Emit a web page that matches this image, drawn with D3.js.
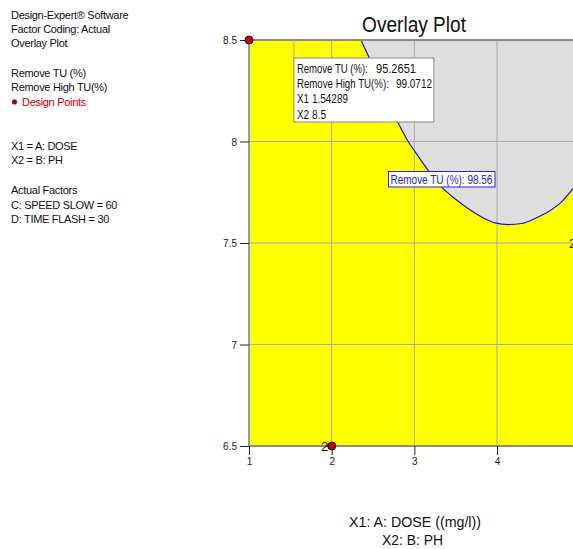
<!DOCTYPE html>
<html><head><meta charset="utf-8">
<script src="https://cdn.jsdelivr.net/npm/d3@7/dist/d3.min.js"></script>
<style>body{margin:0;background:#fff;overflow:hidden}svg{display:block}text{font-family:"Liberation Sans",Arial,sans-serif}</style>
</head><body><svg id="c" width="573" height="549"></svg>
<script>
const xTicks = [1, 2, 3, 4, 5];
const yTicks = [6.5, 7, 7.5, 8, 8.5];
// Remove TU (%) = 98.56 contour boundary (X1, X2)
const contourX = [2.355, 2.58, 2.806, 2.927, 3.008, 3.169, 3.331, 3.492, 3.653, 3.815, 3.976, 4.137, 4.299, 4.460, 4.620, 4.783, 4.919, 5.0];
const contourY = [8.5, 8.30, 8.090, 7.999, 7.950, 7.857, 7.775, 7.718, 7.669, 7.628, 7.599, 7.591, 7.596, 7.621, 7.654, 7.704, 7.768, 7.81];
const designX = [1, 2, 5];
const designY = [8.5, 6.5, 7.5];
const designLabel = ["", "2", "2"];
const legendLines = ["Design-Expert® Software", "Factor Coding: Actual", "Overlay Plot"];
const responseLines = ["Remove TU (%)", "Remove High TU(%)"];
const factorLines = ["X1 = A: DOSE", "X2 = B: PH"];
const actualLines = ["Actual Factors", "C: SPEED SLOW = 60", "D: TIME FLASH = 30"];
const tipLabels = ["Remove TU (%):", "Remove High TU(%):", "X1", "X2"];
const tipValues = ["95.2651", "99.0712", "1.54289", "8.5"];
const tipPoint = [1.54289, 8.5];
const contourLabel = "Remove TU (%): 98.56";

const svg = d3.select("#c");
const W = 573;
const x = d3.scaleLinear().domain([1, 5]).range([249, 579.7]);
const y = d3.scaleLinear().domain([6.5, 8.5]).range([446, 40]);

// text squeezed horizontally to a given width (via transform, anchor start or middle)
function fitText(parent, str, px, py, width, size, fill, anchor) {
  const t = parent.append("text").attr("font-size", size).attr("fill", fill || "#111").text(str);
  const nat = t.node().getComputedTextLength();
  const s = Math.min(1.15, width / nat);
  if (anchor === "middle") t.attr("text-anchor", "middle");
  t.attr("transform", `translate(${px},${py}) scale(${s},1)`);
  return t;
}

// legend text
const lg = svg.append("g").attr("font-size", 11).attr("fill", "#111").attr("letter-spacing", -0.3);
legendLines.forEach((t, i) => lg.append("text").attr("x", 11).attr("y", 19 + i * 14.2).text(t));
responseLines.forEach((t, i) => lg.append("text").attr("x", 11).attr("y", 77 + i * 14.2).text(t));
lg.append("circle").attr("cx", 14.5).attr("cy", 102).attr("r", 2.3).attr("fill", "#b00000").attr("stroke", "#400").attr("stroke-width", 0.6);
lg.append("text").attr("x", 22).attr("y", 106).attr("fill", "#cc0000").text("Design Points");
factorLines.forEach((t, i) => lg.append("text").attr("x", 11).attr("y", 150 + i * 14.2).text(t));
actualLines.forEach((t, i) => lg.append("text").attr("x", 11).attr("y", 194 + i * 14.6).text(t));

// plot fill
svg.append("rect").attr("x", x(1)).attr("y", y(8.5)).attr("width", x(5) - x(1)).attr("height", y(6.5) - y(8.5)).attr("fill", "#ffff00");
const pts = contourX.map((d, i) => [d, contourY[i]]);
const line = d3.line().x(d => x(d[0])).y(d => y(d[1])).curve(d3.curveMonotoneX);
svg.append("path").attr("d", line(pts) + "L" + x(5) + "," + y(8.5) + "Z").attr("fill", "#dedede");

// grid
const grid = svg.append("g").attr("stroke", "#a9a9a9").attr("stroke-width", 1);
xTicks.forEach(t => grid.append("line").attr("x1", x(t)).attr("x2", x(t)).attr("y1", y(8.5)).attr("y2", y(6.5)));
yTicks.forEach(t => grid.append("line").attr("x1", x(1)).attr("x2", x(5)).attr("y1", y(t)).attr("y2", y(t)));

// contour line
svg.append("path").attr("d", line(pts)).attr("fill", "none").attr("stroke", "#1515e0").attr("stroke-width", 1.2);

// border
svg.append("line").attr("x1", x(1)).attr("x2", x(5)).attr("y1", y(8.5)).attr("y2", y(8.5)).attr("stroke", "#8a8a8a").attr("stroke-width", 2);
svg.append("line").attr("x1", x(1)).attr("x2", x(5)).attr("y1", y(6.5)).attr("y2", y(6.5)).attr("stroke", "#8a8a8a").attr("stroke-width", 2);
svg.append("line").attr("x1", x(1)).attr("x2", x(1)).attr("y1", y(8.5)).attr("y2", y(6.5)).attr("stroke", "#8a8a8a").attr("stroke-width", 1.5);

// axes
const xAxis = d3.axisBottom(x).tickValues(xTicks).tickSize(9).tickPadding(3).tickFormat(d => x(d) + 4 > W ? "" : d3.format("d")(d));
const gx = svg.append("g").attr("transform", `translate(0,${y(6.5)})`).call(xAxis);
const yAxis = d3.axisLeft(y).tickValues(yTicks).tickSize(9).tickPadding(3).tickFormat(d => d);
const gy = svg.append("g").attr("transform", `translate(${x(1)},0)`).call(yAxis);
[gx, gy].forEach(g => {
  g.select(".domain").remove();
  g.selectAll("line").attr("stroke", "#222");
  g.selectAll("text").attr("font-size", 10).attr("fill", "#222").attr("font-family", "Liberation Sans, Arial, sans-serif");
});
gy.selectAll("text").attr("dy", "0.35em");

// tooltip
const tx = x(tipPoint[0]), ty = y(tipPoint[1]);
svg.append("line").attr("x1", tx).attr("x2", tx).attr("y1", ty).attr("y2", 58).attr("stroke", "#a9a9a9");
svg.append("rect").attr("x", tx).attr("y", 58).attr("width", 140).attr("height", 64).attr("fill", "#fff").attr("stroke", "#8a8a8a");
const tg = svg.append("g");
const labW = [71, 92, 12, 12];
const valX = [376, 396, 312, 312];
const valW = [40, 36, 36, 14];
tipLabels.forEach((t, i) => {
  const by = 73 + i * 15.2;
  fitText(tg, t, tx + 3, by, labW[i], 12);
  fitText(tg, tipValues[i], valX[i], by, valW[i], 12);
});

// contour label
const cl = svg.append("g");
cl.append("rect").attr("x", 388.5).attr("y", 171.5).attr("width", 106.5).attr("height", 15.5).attr("fill", "#fff").attr("stroke", "#2525e8");
fitText(cl, contourLabel, 390.5, 184, 102, 12, "#2525e8");

// design points
designX.forEach((d, i) => {
  svg.append("circle").attr("cx", x(d)).attr("cy", y(designY[i])).attr("r", 4).attr("fill", "#c00000").attr("stroke", "#300").attr("stroke-width", 1);
  if (designLabel[i]) svg.append("text").attr("x", x(d) - 3.5).attr("y", y(designY[i]) + 4.5).attr("text-anchor", "end").attr("font-size", 13).attr("fill", "#111").text(designLabel[i]);
});

// title
fitText(svg, "Overlay Plot", 414, 32, 104, 22, "#111", "middle");
// axis titles
fitText(svg, "X1: A: DOSE ((mg/l))", 415, 527, 132, 15, "#111", "middle");
fitText(svg, "X2: B: PH", 412.5, 545, 61, 15, "#111", "middle");
</script></body></html>
